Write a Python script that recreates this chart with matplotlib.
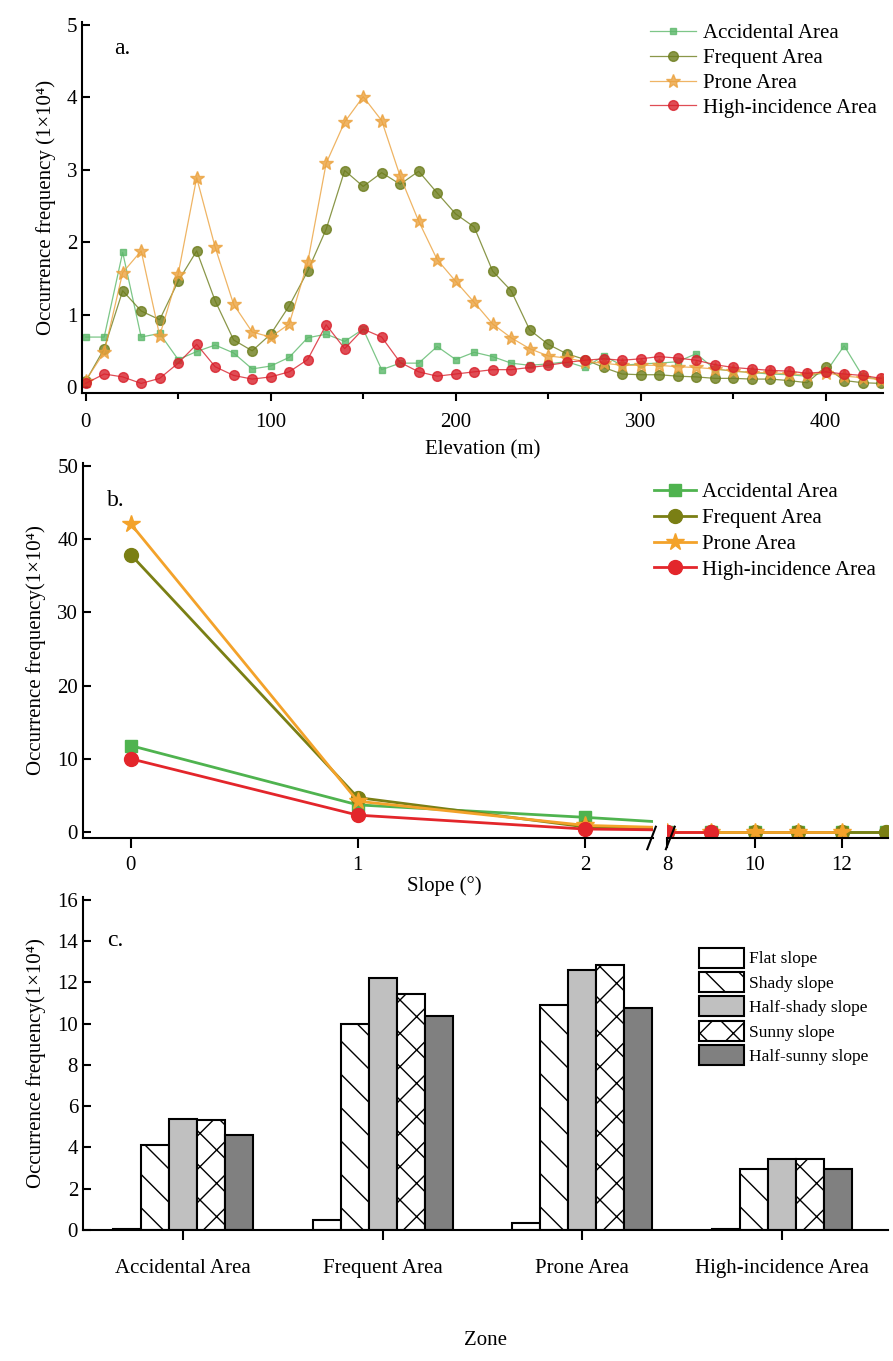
import numpy as np
import matplotlib
matplotlib.use("Agg")
import matplotlib.pyplot as plt

plt.rcParams['font.family'] = ['Liberation Serif', 'DejaVu Serif']
plt.rcParams['axes.linewidth'] = 1.5

# ---- panel a: elevation ----
elevation = [0, 10, 20, 30, 40, 50, 60, 70, 80, 90, 100, 110, 120, 130, 140, 150,
             160, 170, 180, 190, 200, 210, 220, 230, 240, 250, 260, 270, 280, 290,
             300, 310, 320, 330, 340, 350, 360, 370, 380, 390, 400, 410, 420, 430]
accidental_elev = [0.69, 0.69, 1.86, 0.69, 0.74, 0.38, 0.49, 0.58, 0.47, 0.25, 0.29,
                   0.41, 0.68, 0.73, 0.63, 0.80, 0.24, 0.33, 0.33, 0.56, 0.38, 0.48,
                   0.42, 0.33, 0.30, 0.32, 0.35, 0.27, 0.43, 0.30, 0.32, 0.33, 0.35,
                   0.46, 0.25, 0.22, 0.20, 0.18, 0.17, 0.15, 0.20, 0.57, 0.15, 0.10]
frequent_elev = [0.08, 0.53, 1.33, 1.05, 0.93, 1.46, 1.88, 1.19, 0.65, 0.50, 0.73,
                 1.12, 1.60, 2.18, 2.99, 2.77, 2.96, 2.80, 2.98, 2.68, 2.39, 2.21,
                 1.60, 1.33, 0.79, 0.59, 0.46, 0.38, 0.27, 0.18, 0.17, 0.17, 0.15,
                 0.14, 0.12, 0.12, 0.11, 0.11, 0.09, 0.06, 0.28, 0.09, 0.06, 0.05]
prone_elev = [0.09, 0.48, 1.58, 1.88, 0.71, 1.56, 2.89, 1.93, 1.14, 0.76, 0.69,
              0.87, 1.72, 3.09, 3.66, 4.01, 3.68, 2.91, 2.29, 1.76, 1.46, 1.17,
              0.87, 0.68, 0.53, 0.43, 0.40, 0.35, 0.33, 0.30, 0.30, 0.30, 0.28,
              0.27, 0.25, 0.22, 0.20, 0.20, 0.18, 0.17, 0.20, 0.15, 0.13, 0.10]
high_elev = [0.05, 0.18, 0.14, 0.05, 0.12, 0.33, 0.59, 0.28, 0.16, 0.11, 0.14,
             0.21, 0.38, 0.86, 0.53, 0.80, 0.69, 0.34, 0.21, 0.15, 0.18, 0.21,
             0.24, 0.24, 0.27, 0.30, 0.34, 0.37, 0.39, 0.37, 0.39, 0.42, 0.40,
             0.37, 0.31, 0.27, 0.25, 0.23, 0.22, 0.19, 0.21, 0.18, 0.16, 0.12]

# ---- panel b: slope (broken axis) ----
slope_low = [0, 1, 2, 3]
accidental_slope_low = [11.8, 3.7, 2.0, 0.1]
frequent_slope_low = [37.9, 4.7, 0.7, 0.05]
prone_slope_low = [42.1, 4.2, 0.9, 0.05]
high_slope_low = [10.0, 2.3, 0.4, 0.05]
slope_high = [8, 9, 10, 11, 12, 13]
accidental_slope_high = [0, 0, 0, 0, 0, 0]
frequent_slope_high = [0, 0, 0, 0, 0, 0]
prone_slope_high = [0, 0, 0, 0, 0, np.nan]
high_slope_high = [0, 0, np.nan, np.nan, np.nan, np.nan]

# ---- panel c: aspect ----
zones = ['Accidental Area', 'Frequent Area', 'Prone Area', 'High-incidence Area']
aspects = ['Flat slope', 'Shady slope', 'Half-shady slope', 'Sunny slope', 'Half-sunny slope']
aspect_values = [
    [0.05, 0.48, 0.35, 0.05],
    [4.10, 10.00, 10.92, 2.97],
    [5.40, 12.22, 12.60, 3.46],
    [5.35, 11.44, 12.87, 3.42],
    [4.60, 10.36, 10.76, 2.97],
]

areas = ['Accidental Area', 'Frequent Area', 'Prone Area', 'High-incidence Area']
markers = ['s', 'o', '*', 'o']
colors_a = ['#5cb86a', '#6d7d1c', '#eba23e', '#d8202b']
colors_b = ['#4fb34f', '#7a7f14', '#f3a22a', '#e3262b']
msize_a = [5, 7, 10, 7]
msize_b = [9, 10, 13, 10]

fig = plt.figure(figsize=(8.93, 13.61), dpi=100)
fs = 15

# panel a
ax = fig.add_axes([0.0918, 0.7112, 0.897, 0.2726])
for vals, m, c, ms, lab in zip([accidental_elev, frequent_elev, prone_elev, high_elev],
                               markers, colors_a, msize_a, areas):
    ax.plot(elevation, vals, color=c, lw=0.9, alpha=0.8, marker=m, ms=ms,
            mfc=c, mec=c, label=lab)
ax.set_xlim(-2, 431)
ax.set_ylim(-0.083, 5.04)
ax.set_xticks([0, 100, 200, 300, 400])
ax.set_xticks([50, 150, 250, 350], minor=True)
ax.set_yticks([0, 1, 2, 3, 4, 5])
ax.tick_params(axis='x', direction='out', length=6, width=1.5, labelsize=fs, pad=8)
ax.tick_params(axis='x', which='minor', direction='out', length=4, width=1.5)
ax.tick_params(axis='y', direction='in', length=6, width=1.5, labelsize=fs)
ax.spines[['top', 'right']].set_visible(False)
ax.set_xlabel('Elevation (m)', fontsize=fs, labelpad=6)
ax.set_ylabel('Occurrence frequency (1×10⁴)', fontsize=fs, labelpad=8)
ax.text(0.04, 0.93, 'a.', transform=ax.transAxes, fontsize=17, va='center')
ax.legend(loc='upper right', bbox_to_anchor=(1.01, 1.035), frameon=False, fontsize=fs,
          handlelength=2.2, handletextpad=0.3, labelspacing=0.25, borderpad=0.2)

# panel b
axb1 = fig.add_axes([0.0929, 0.3843, 0.6383, 0.2755])
axb2 = fig.add_axes([0.7469, 0.3843, 0.2475, 0.2755], sharey=axb1)
axb2.patch.set_visible(False)
for vals_l, vals_h, m, c, ms, lab in zip(
        [accidental_slope_low, frequent_slope_low, prone_slope_low, high_slope_low],
        [accidental_slope_high, frequent_slope_high, prone_slope_high, high_slope_high],
        markers, colors_b, msize_b, areas):
    axb1.plot(slope_low, vals_l, color=c, lw=2, marker=m, ms=ms, mfc=c, mec=c, label=lab)
    axb2.plot(slope_high, vals_h, color=c, lw=2, marker=m, ms=ms, mfc=c, mec=c)
axb1.set_xlim(-0.21, 2.3)
axb2.set_xlim(8, 13.05)
axb1.set_ylim(-0.82, 50.4)
axb1.set_xticks([0, 1, 2])
axb2.set_xticks([8, 10, 12])
axb1.set_yticks([0, 10, 20, 30, 40, 50])
for a in (axb1, axb2):
    a.tick_params(axis='x', direction='out', length=7, width=1.5, labelsize=fs, pad=6)
    a.spines[['top', 'right']].set_visible(False)
axb1.tick_params(axis='y', direction='in', length=6, width=1.5, labelsize=fs)
axb2.spines['left'].set_visible(False)
axb2.tick_params(axis='y', left=False, labelleft=False)
axb1.set_ylabel('Occurrence frequency(1×10⁴)', fontsize=fs, labelpad=8)
fig.text(0.498, 1 - 886 / 1361, 'Slope (°)', fontsize=fs, ha='center', va='center')
axb1.text(0.042, 0.90, 'b.', transform=axb1.transAxes, fontsize=17, va='center')
kw = dict(color='k', lw=1.5, clip_on=False)
axb1.plot([0.99, 1.005], [-0.03, 0.03], transform=axb1.transAxes, **kw)
axb2.plot([-0.005, 0.035], [-0.03, 0.03], transform=axb2.transAxes, **kw)
handles, labels = axb1.get_legend_handles_labels()
fig.legend(handles, labels, loc='upper right', bbox_to_anchor=(0.997, 1 - 468 / 1361),
           frameon=False, fontsize=fs, handlelength=2.0, handletextpad=0.3,
           labelspacing=0.3, borderpad=0.2)

# panel c
axc = fig.add_axes([0.0929, 0.0963, 0.9015, 0.2447])
x = np.arange(len(zones))
width = 0.14
fills = ['white', 'white', '#c0c0c0', 'white', '#808080']
hatches = [None, '\\', None, 'x', None]
for i, (vals, lab, fc, h) in enumerate(zip(aspect_values, aspects, fills, hatches)):
    axc.bar(x + (i - 2) * width, vals, width, color=fc, edgecolor='black',
            linewidth=1.5, hatch=h, label=lab)
axc.set_xlim(-0.5, 3.53)
axc.set_ylim(0, 16.15)
axc.set_xticks(x)
axc.set_xticklabels(zones)
axc.set_yticks([0, 2, 4, 6, 8, 10, 12, 14, 16])
axc.tick_params(axis='x', direction='out', length=7, width=1.5, labelsize=fs, pad=14)
axc.tick_params(axis='y', direction='in', length=6, width=1.5, labelsize=fs)
axc.spines[['top', 'right']].set_visible(False)
axc.set_xlabel('Zone', fontsize=fs, labelpad=38)
axc.set_ylabel('Occurrence frequency(1×10⁴)', fontsize=fs, labelpad=8)
axc.text(0.03, 0.87, 'c.', transform=axc.transAxes, fontsize=17, va='center')
axc.legend(loc='upper right', bbox_to_anchor=(0.99, 1 - 932 / 1361),
           bbox_transform=fig.transFigure, frameon=False, fontsize=12.5,
           handlelength=2.6, handleheight=1.4, handletextpad=0.3, labelspacing=0.25)

fig.savefig('out.png', dpi=100)
